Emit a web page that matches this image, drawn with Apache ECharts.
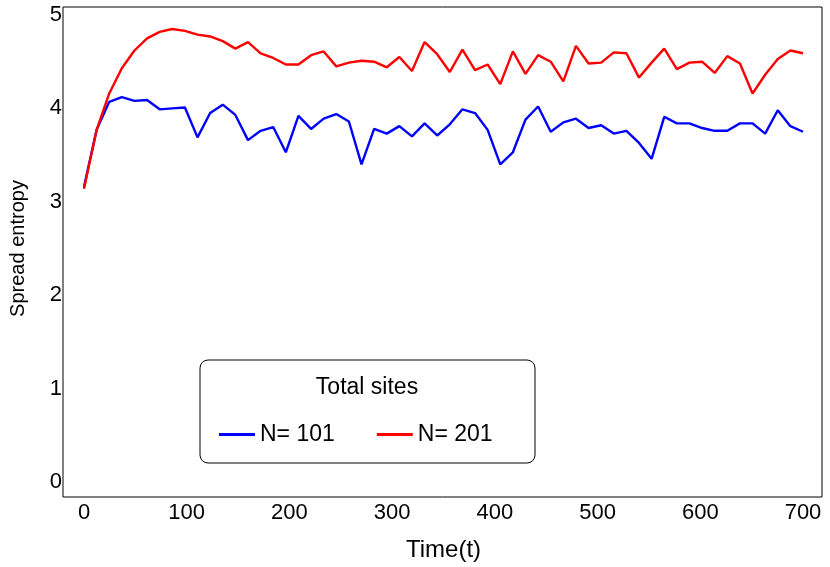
<!DOCTYPE html><html><head><meta charset="utf-8"><script src="https://cdn.jsdelivr.net/npm/echarts@6/dist/echarts.min.js"></script></head><body style="margin:0"><div id="c" style="width:830px;height:567px"></div><script>
const times = Array.from({length:58},(_,i)=>+(i*700/57).toFixed(2));
const n101 = [3.16,3.77,4.07,4.12,4.08,4.09,3.99,4.00,4.01,3.69,3.95,4.04,3.93,3.66,3.76,3.80,3.53,3.92,3.78,3.89,3.94,3.86,3.40,3.78,3.73,3.81,3.70,3.84,3.71,3.83,3.99,3.95,3.77,3.40,3.53,3.88,4.02,3.75,3.85,3.89,3.79,3.82,3.73,3.76,3.63,3.46,3.91,3.84,3.84,3.79,3.76,3.76,3.84,3.84,3.73,3.98,3.81,3.75];
const n201 = [3.14,3.77,4.16,4.43,4.62,4.75,4.82,4.85,4.83,4.79,4.77,4.72,4.64,4.71,4.59,4.54,4.47,4.47,4.57,4.61,4.45,4.49,4.51,4.50,4.44,4.55,4.40,4.71,4.58,4.39,4.63,4.41,4.47,4.26,4.61,4.37,4.57,4.50,4.29,4.67,4.48,4.49,4.60,4.59,4.33,4.49,4.64,4.42,4.49,4.50,4.38,4.56,4.48,4.16,4.36,4.53,4.62,4.59];
const pair = a => a.map((v,i)=>[times[i],v]);
const F='Liberation Sans';
const c=echarts.init(document.getElementById('c'));
c.setOption({
 animation:false,
 grid:[{left:81,right:27,top:15,bottom:85},{left:63,right:8,top:7,bottom:70,show:true,borderColor:'#000',borderWidth:1}],
 xAxis:[{type:'value',min:0,max:700,interval:100,axisLine:{show:false},axisTick:{show:false},splitLine:{show:false},
   axisLabel:{margin:20,fontSize:22,color:'#000',fontFamily:F},name:'Time(t)',nameLocation:'middle',nameGap:56,nameTextStyle:{fontSize:24,color:'#000',fontFamily:F}},
   {gridIndex:1,show:false,min:0,max:1}],
 yAxis:[{type:'value',min:0,max:5,interval:1,axisLine:{show:false},axisTick:{show:false},splitLine:{show:false},
   axisLabel:{margin:22,fontSize:22,color:'#000',fontFamily:F},name:'Spread entropy',nameLocation:'middle',nameGap:56,nameTextStyle:{fontSize:20,color:'#000',fontFamily:F}},
   {gridIndex:1,show:false,min:0,max:1}],
 legend:{left:214,top:418,itemWidth:36,itemHeight:3,itemGap:42,icon:'rect',textStyle:{fontSize:23,color:'#000',fontFamily:F},
   data:['N= 101','N= 201']},
 graphic:[{type:'rect',shape:{x:200,y:360,width:335,height:103,r:8},style:{fill:'#fff',stroke:'#000',lineWidth:1},z:-1},
   {type:'text',x:367,y:388,style:{text:'Total sites',font:'23px "Liberation Sans"',fill:'#000',align:'center',verticalAlign:'middle'}}],
 series:[{name:'N= 101',type:'line',data:pair(n101),showSymbol:false,lineStyle:{color:'#0000ff',width:2.4},itemStyle:{color:'#0000ff'}},
   {name:'N= 201',type:'line',data:pair(n201),showSymbol:false,lineStyle:{color:'#ff0000',width:2.4},itemStyle:{color:'#ff0000'}}]
});
</script></body></html>
